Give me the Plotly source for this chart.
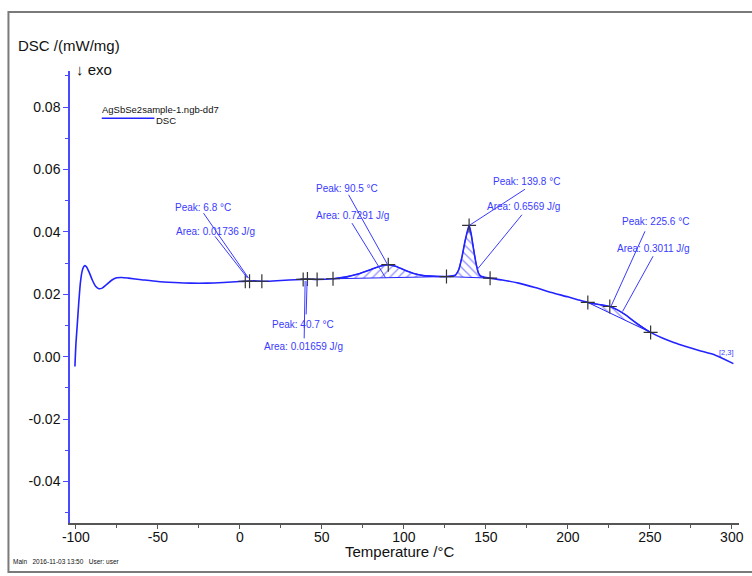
import plotly.graph_objects as go

# ---------------- data ----------------
temperature = [-100.6, -100.0, -99.2, -98.3, -97.3, -96.3, -95.3, -94.5, -93.5, -92.0, -90.0, -88.0,
               -86.0, -84.0, -81.0, -78.0, -75.0, -72.0, -68.0, -60.0, -50.0, -40.0, -30.0, -20.0,
               -10.0, 0.0, 4.0, 6.8, 10.0, 13.0, 20.0, 30.0, 38.0, 40.7, 47.0, 56.8, 65.0, 72.0,
               80.0, 86.0, 90.5, 95.0, 100.0, 106.0, 112.0, 118.0, 126.0, 130.0, 131.5, 133.5,
               135.5, 137.5, 139.8, 141.0, 142.5, 144.0, 145.5, 147.0, 149.0, 152.6, 160.0, 170.0,
               180.0, 190.0, 200.0, 206.0, 212.2, 218.0, 222.0, 225.6, 230.0, 235.0, 240.0, 245.0,
               250.5, 258.0, 265.0, 272.0, 280.0, 290.0, 301.0]
dsc = [-0.0031, 0.0040, 0.0100, 0.0170, 0.0235, 0.0272, 0.0288, 0.0292, 0.0288, 0.0272, 0.0246, 0.0226,
       0.0218, 0.0220, 0.0233, 0.0246, 0.0253, 0.0254, 0.0252, 0.0247, 0.0241, 0.0238, 0.0236, 0.0236,
       0.0238, 0.0241, 0.0242, 0.0243, 0.0243, 0.0242, 0.0243, 0.0246, 0.0248, 0.0249, 0.0248, 0.0250,
       0.0256, 0.0265, 0.0280, 0.0291, 0.0295, 0.0290, 0.0279, 0.0267, 0.0260, 0.0258, 0.0257, 0.0259,
       0.0262, 0.0279, 0.0321, 0.0375, 0.0421, 0.0395, 0.0345, 0.0300, 0.0268, 0.0258, 0.0255, 0.0252,
       0.0246, 0.0236, 0.0222, 0.0206, 0.0192, 0.0183, 0.0174, 0.0168, 0.0165, 0.0161, 0.0151, 0.0135,
       0.0115, 0.0096, 0.0078, 0.0059, 0.0045, 0.0033, 0.0020, 0.0005, -0.0022]

# integration limits / peak markers
marker_t = [3.3, 5.9, 13.4, 38.6, 41.2, 47.1, 56.8, 90.5, 126.0, 139.8, 152.6, 212.2, 225.6, 250.5]
marker_y = [0.0242, 0.0242, 0.0242, 0.0248, 0.0249, 0.0248, 0.0250, 0.0295, 0.0257, 0.0421, 0.0252,
            0.0174, 0.0161, 0.0078]

# hatched peak areas: baseline start/end
area_start_t = [56.8, 126.0, 212.2]
area_end_t = [126.0, 152.6, 250.5]
area_start_y = [0.0250, 0.0257, 0.0174]
area_end_y = [0.0257, 0.0252, 0.0078]
area_hatch = ["/", "\\", "\\"]

# annotation labels
label_text = ["Peak: 6.8 °C", "Area: 0.01736 J/g", "Peak: 40.7 °C", "Area: 0.01659 J/g",
              "Peak: 90.5 °C", "Area: 0.7291 J/g", "Peak: 139.8 °C", "Area: 0.6569 J/g",
              "Peak: 225.6 °C", "Area: 0.3011 J/g"]
label_t = [-40.7, -40.1, 18.5, 13.2, 45.3, 45.1, 153.0, 149.2, 231.7, 228.9]
label_y = [0.0480, 0.0401, 0.0102, 0.0033, 0.0540, 0.0453, 0.0562, 0.0481, 0.0433, 0.0348]
# leader lines: from (lead_t0, lead_y0) near label to (lead_t1, lead_y1) on the curve
lead_t0 = [-22.8, -15.9, 40.4, 39.2, 65.8, 67.8, 174.8, 172.8, 247.5, 252.5]
lead_y0 = [0.0465, 0.0391, 0.0131, 0.0054, 0.0524, 0.0433, 0.0540, 0.0460, 0.0407, 0.0327]
lead_t1 = [5.3, 4.7, 41.0, 39.8, 90.1, 89.0, 139.9, 144.6, 226.3, 233.4]
lead_y1 = [0.0252, 0.0252, 0.0243, 0.0243, 0.0295, 0.0252, 0.0421, 0.0279, 0.0161, 0.0145]

x_tickvals = [-100, -50, 0, 50, 100, 150, 200, 250, 300]
x_ticktext = ["-100", "-50", "0", "50", "100", "150", "200", "250", "300"]
y_tickvals = [-0.04, -0.02, 0.00, 0.02, 0.04, 0.06, 0.08]
y_ticktext = ["-0.04", "-0.02", "0.00", "0.02", "0.04", "0.06", "0.08"]

# ---------------- figure ----------------
BLUE = "#2323ff"
LBLUE = "#3a3aff"
FONT = "Liberation Sans, Arial, sans-serif"

fig = go.Figure()

for i in range(len(area_start_t)):
    t0, t1 = area_start_t[i], area_end_t[i]
    seg_t = [t for t in temperature if t0 <= t <= t1]
    seg_y = [y for t, y in zip(temperature, dsc) if t0 <= t <= t1]
    poly_t = seg_t + [t1, t0]
    poly_y = seg_y + [area_end_y[i], area_start_y[i]]
    fig.add_trace(go.Scatter(
        x=poly_t, y=poly_y, mode="lines", fill="toself",
        line=dict(color=BLUE, width=1),
        fillcolor="rgba(0,0,0,0)",
        fillpattern=dict(shape=area_hatch[i], fgcolor=BLUE, bgcolor="rgba(0,0,0,0)",
                         size=6, solidity=0.22),
        hoverinfo="skip", showlegend=False))

fig.add_trace(go.Scatter(x=temperature, y=dsc, mode="lines",
                         line=dict(color=BLUE, width=1.6, shape="spline", smoothing=0.6),
                         name="DSC", showlegend=False))

fig.add_trace(go.Scatter(x=marker_t, y=marker_y, mode="markers",
                         marker=dict(symbol="cross-thin", size=10,
                                     line=dict(color="#333333", width=1.2)),
                         hoverinfo="skip", showlegend=False))

annotations = []
for i in range(len(label_text)):
    annotations.append(dict(x=lead_t1[i], y=lead_y1[i], ax=lead_t0[i], ay=lead_y0[i],
                            xref="x", yref="y", axref="x", ayref="y", text="",
                            showarrow=True, arrowhead=0, arrowwidth=1, arrowcolor=LBLUE,
                            standoff=0, startstandoff=0))
    annotations.append(dict(x=label_t[i], y=label_y[i], xref="x", yref="y", text=label_text[i],
                            showarrow=False, xanchor="left", yanchor="middle",
                            font=dict(family=FONT, size=10, color=LBLUE)))

annotations.append(dict(x=291, y=0.0013, xref="x", yref="y", text="[2,3]", showarrow=False,
                        xanchor="left", yanchor="middle", font=dict(family=FONT, size=7.5, color=LBLUE)))

W, L, R, T, B = 752, 70, 744, 71, 523
def px(x):
    return (x - L) / (R - L)
def py(y):
    return (B - y) / (B - T)

annotations += [
    dict(x=px(16), y=py(45), xref="paper", yref="paper", text="DSC /(mW/mg)", showarrow=False,
         xanchor="left", yanchor="middle", font=dict(family=FONT, size=15, color="#111")),
    dict(x=px(74), y=py(69), xref="paper", yref="paper", text="↓ exo", showarrow=False,
         xanchor="left", yanchor="middle", font=dict(family=FONT, size=15, color="#111")),
    dict(x=px(402), y=py(551), xref="paper", yref="paper", text="Temperature /°C", showarrow=False,
         xanchor="center", yanchor="middle", font=dict(family=FONT, size=15, color="#111")),
    dict(x=px(11), y=py(561), xref="paper", yref="paper",
         text="Main   2016-11-03 13:50   User: user", showarrow=False,
         xanchor="left", yanchor="middle", font=dict(family=FONT, size=6.5, color="#111")),
    dict(x=px(100), y=py(110), xref="paper", yref="paper", text="AgSbSe2sample-1.ngb-dd7",
         showarrow=False, xanchor="left", yanchor="middle",
         font=dict(family=FONT, size=9.5, color="#111")),
    dict(x=px(155), y=py(120.5), xref="paper", yref="paper", text="DSC",
         showarrow=False, xanchor="left", yanchor="middle",
         font=dict(family=FONT, size=9.5, color="#111")),
]

shapes = [
    dict(type="line", xref="paper", yref="paper", x0=px(102), x1=px(155), y0=py(118.3), y1=py(118.3),
         line=dict(color=BLUE, width=1.5)),
    dict(type="rect", xref="paper", yref="paper", x0=px(8), x1=px(770), y0=py(572), y1=py(12),
         line=dict(color="#7a7a7a", width=2), layer="below"),
]

fig.update_layout(
    width=752, height=576,
    margin=dict(l=L, r=W - R, t=T, b=576 - B),
    paper_bgcolor="white", plot_bgcolor="white",
    font=dict(family=FONT, size=14, color="#111"),
    showlegend=False,
    annotations=annotations,
    shapes=shapes,
    xaxis=dict(range=[-103.6, 304.4], tickvals=x_tickvals, ticktext=x_ticktext,
               showgrid=False, zeroline=False, showline=True, linecolor="#555555", linewidth=1.5,
               ticks="outside", ticklen=4, tickcolor="#555555", tickfont=dict(size=14),
               ticklabelstandoff=-4,
               minor=dict(dtick=25, tick0=0, ticks="outside", ticklen=3, tickcolor="#555555",
                          showgrid=False)),
    yaxis=dict(range=[-0.0533, 0.0916], tickvals=y_tickvals, ticktext=y_ticktext,
               showgrid=False, zeroline=False, showline=True, linecolor="#4a4aff", linewidth=1.5,
               ticks="outside", ticklen=5, tickcolor="#4a4aff", tickfont=dict(size=14),
               minor=dict(dtick=0.01, tick0=0, ticks="outside", ticklen=3, tickcolor="#4a4aff",
                          showgrid=False)),
)

fig.write_html("out.html", config={"displayModeBar": False},
               post_script="document.body.style.margin='0';document.body.style.overflow='hidden';")
